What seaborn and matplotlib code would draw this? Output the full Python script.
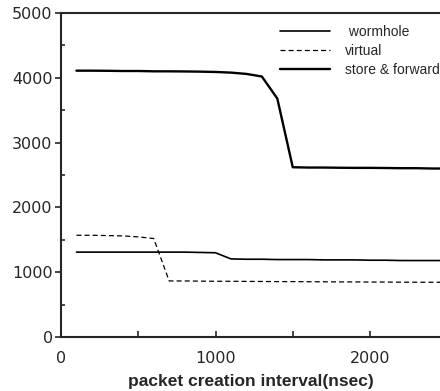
import numpy as np
import pandas as pd
import seaborn as sns
import matplotlib.pyplot as plt
from matplotlib.ticker import MultipleLocator

# packet creation interval (nsec)
interval = [100, 200, 300, 400, 500, 600, 700, 800, 900, 1000, 1100, 1200,
            1300, 1400, 1500, 1600, 1700, 1800, 1900, 2000, 2100, 2200, 2300, 2400, 2500]
wormhole = [1310, 1310, 1310, 1310, 1310, 1310, 1310, 1310, 1305, 1300, 1205, 1200,
            1200, 1195, 1195, 1195, 1190, 1190, 1190, 1185, 1185, 1180, 1180, 1180, 1180]
virtual = [1570, 1570, 1565, 1560, 1545, 1520, 865, 865, 862, 860, 860, 858,
           857, 855, 855, 853, 852, 850, 850, 848, 848, 846, 845, 845, 845]
store_fwd = [4110, 4110, 4108, 4105, 4105, 4100, 4100, 4098, 4095, 4090, 4080, 4060,
             4020, 3680, 2620, 2615, 2615, 2612, 2610, 2610, 2608, 2605, 2605, 2600, 2600]

df = pd.DataFrame({'interval': interval, 'wormhole': wormhole,
                   'virtual': virtual, 'store & forward': store_fwd})

sns.set_style('ticks')
plt.rcParams['font.family'] = ['Liberation Sans', 'DejaVu Sans']

fig = plt.figure(figsize=(4.4, 3.91), dpi=100)
ax = fig.add_axes([61 / 440, 54 / 391, 379 / 440, 324 / 391])

sns.lineplot(data=df, x='interval', y='wormhole', color='black', lw=1.2, ax=ax, label=' wormhole')
sns.lineplot(data=df, x='interval', y='virtual', color='black', lw=0.9, ax=ax, label='virtual',
             dashes=False, linestyle=(0, (4, 2.5)))
sns.lineplot(data=df, x='interval', y='store & forward', color='black', lw=1.7, ax=ax, label='store & forward')

ax.set_xlim(0, 2453)
ax.set_ylim(0, 5000)
ax.xaxis.set_major_locator(MultipleLocator(1000))
ax.xaxis.set_minor_locator(MultipleLocator(500))
ax.yaxis.set_major_locator(MultipleLocator(1000))
ax.yaxis.set_minor_locator(MultipleLocator(500))
ax.tick_params(axis='x', which='both', direction='in', length=4, width=1.2, pad=10)
ax.tick_params(axis='y', which='major', direction='out', length=4, width=1.2, pad=2)
ax.tick_params(axis='y', which='minor', direction='in', length=3, width=1.2)
for lab in ax.get_xticklabels() + ax.get_yticklabels():
    lab.set_fontfamily('DejaVu Sans')
    lab.set_fontsize(11.5)

for side in ['left', 'bottom', 'top']:
    ax.spines[side].set_visible(True)
    ax.spines[side].set_linewidth(1.5)
ax.spines['right'].set_visible(False)

ax.set_xlabel('packet creation interval(nsec)', fontsize=12.5, fontweight='bold', labelpad=6)
ax.set_ylabel('')

leg = ax.legend(loc='upper left', bbox_to_anchor=(0.578, 0.963), frameon=False, fontsize=10,
                borderaxespad=0, borderpad=0, handlelength=3.6, handletextpad=1.1,
                labelspacing=0.37)

plt.savefig('out.png', dpi=100)
